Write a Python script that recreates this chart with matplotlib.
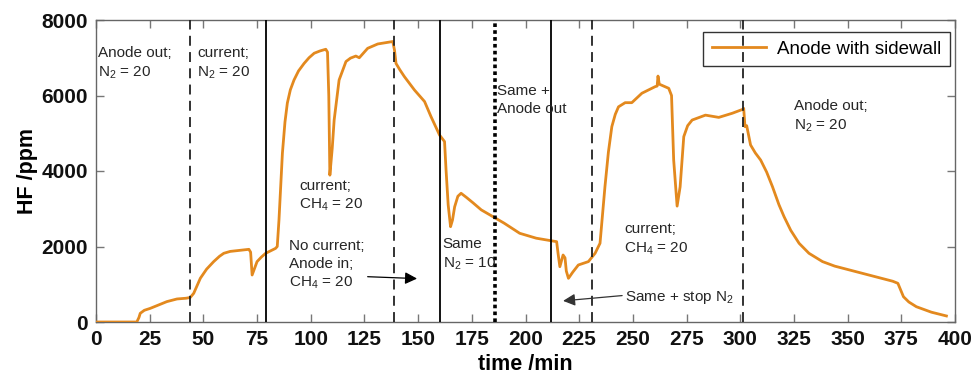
import matplotlib
matplotlib.use("Agg")
import matplotlib.pyplot as plt

plt.rcParams['font.family'] = ['Liberation Sans', 'DejaVu Sans']
plt.rcParams['mathtext.fontset'] = 'custom'
plt.rcParams['mathtext.rm'] = 'Liberation Sans'
plt.rcParams['mathtext.default'] = 'regular'

time_min = [0, 19, 20.0, 20.6, 22.5, 25.2, 30, 33, 37.7, 42, 43.9, 45.5, 48.6, 51.5, 54.8, 57.5,
            59.5, 62.5, 65.7, 71.2, 72.0, 72.7, 75, 77, 79, 83.6, 84.4, 85.2, 86.8, 88.0, 89.1,
            90.5, 92.2, 94.3, 96.9, 99.2, 101.6, 104.3, 107, 107.8, 108.4, 108.9, 110.0, 110.9,
            113.2, 116.4, 118.5, 121, 122.6, 124.5, 126.5, 131.2, 135, 138.2, 139.0, 139.7,
            141.5, 143.6, 148.3, 153, 156, 160, 162.3, 163, 164.0, 165.1, 166.0, 167, 168.5,
            170, 172.5, 175.5, 179.4, 184.9, 190, 197.3, 205, 214.5, 215.2, 216, 217.5, 218.4,
            219, 220, 222.0, 224.6, 229.3, 232.4, 234.7, 237, 238.6, 240.2, 241.8, 243.3,
            246.4, 249.5, 254.2, 260.4, 261.3, 261.7, 262.3, 266.7, 268, 269, 270.6, 272, 273.7,
            275.5, 277.6, 283.8, 290, 296.3, 301, 301.6, 302.2, 303, 304.8, 307, 309.5, 312.3,
            315, 318, 320.4, 323.5, 327.4, 332, 338.3, 344, 350.8, 357, 363.2, 371, 373.4,
            374.3, 376, 378.5, 382, 389, 396]
hf_ppm = [0, 0, 120, 230, 310, 360, 470, 540, 610, 630, 650, 760, 1160, 1400, 1600, 1740,
          1820, 1870, 1890, 1925, 1850, 1245, 1600, 1720, 1820, 1950, 2000, 2700, 4470, 5300,
          5800, 6150, 6410, 6650, 6850, 7000, 7120, 7180, 7225, 7150, 6000, 3890, 4600, 5350,
          6410, 6900, 6990, 7045, 7000, 7120, 7250, 7365, 7400, 7430, 7200, 6850,
          6680, 6500, 6145, 5840, 5440, 4950, 4780, 4030, 3100, 2525, 2700, 3050, 3330,
          3410, 3300, 3160, 2970, 2790, 2620, 2350, 2220, 2128, 1800, 1465, 1775, 1700,
          1350, 1157, 1320, 1510, 1600, 1820, 2085, 3585, 4500, 5175, 5500, 5700,
          5810, 5810, 6060, 6235, 6250, 6515, 6300, 6190, 6000, 4290, 3070, 3580, 4910,
          5200, 5350, 5480, 5420, 5530, 5630, 5660, 5175, 5200, 4690, 4480, 4290, 3970,
          3585, 3110, 2790, 2430, 2085, 1820, 1600, 1480, 1380, 1290, 1200, 1080, 1025,
          900, 670, 530, 405, 260, 160]

dashed_events = [43.9, 138.8, 230.8, 301.4]
solid_events = [79.0, 160.3, 211.7]
dotted_events = [186.0]

x_ticks = list(range(0, 401, 25))
y_ticks = [0, 2000, 4000, 6000, 8000]

labels = [
    (1, 7300, 'Anode out;\nN$_2$ = 20'),
    (47, 7300, 'current;\nN$_2$ = 20'),
    (94.5, 3800, 'current;\nCH$_4$ = 20'),
    (90, 2200, 'No current;\nAnode in;\nCH$_4$ = 20'),
    (161.5, 2250, 'Same\nN$_2$ = 10'),
    (186.5, 6300, 'Same +\nAnode out'),
    (246, 2650, 'current;\nCH$_4$ = 20'),
    (325, 5900, 'Anode out;\nN$_2$ = 20'),
]

fig = plt.figure(figsize=(9.76, 3.88), dpi=100)
ax = fig.add_axes([96 / 976, 1 - 322 / 388, (955 - 96) / 976, (322 - 20) / 388])

line_color = '#E3891E'
ax.plot(time_min, hf_ppm, color=line_color, lw=2.0, label='Anode with sidewall', zorder=4)

for x in dashed_events:
    ax.axvline(x, color='#222222', lw=1.3, ls=(0, (5.5, 3.5)), zorder=5)
for x in solid_events:
    ax.axvline(x, color='black', lw=1.3, zorder=5)
for x in dotted_events:
    ax.axvline(x, color='black', lw=2.6, ls=(0, (1, 0.9)), zorder=5)

for x, y, s in labels:
    ax.text(x, y, s, fontsize=11, color='#262626', va='top', ha='left', linespacing=1.35, zorder=6)

ax.annotate('', xy=(149.5, 1150), xytext=(126.5, 1200),
            arrowprops=dict(arrowstyle='-|>', color='black', lw=0.9, mutation_scale=18,
                            shrinkA=0, shrinkB=0), zorder=6)
ax.text(246.5, 650, 'Same + stop N$_2$', fontsize=11, color='#262626', va='center', ha='left', zorder=6)
ax.annotate('', xy=(217.5, 560), xytext=(245, 700),
            arrowprops=dict(arrowstyle='-|>', color='#333333', lw=0.9, mutation_scale=18,
                            shrinkA=0, shrinkB=0), zorder=6)

ax.set_xlim(0, 400)
ax.set_ylim(0, 8000)
ax.set_xticks(x_ticks)
ax.set_yticks(y_ticks)
ax.tick_params(direction='in', length=6, width=1, color='#777777', top=True, right=True,
               labelsize=15, pad=6)
for lab in ax.get_xticklabels() + ax.get_yticklabels():
    lab.set_fontweight('bold')
    lab.set_color('#111111')
for sp in ax.spines.values():
    sp.set_color('#666666')
    sp.set_linewidth(1.0)

ax.set_xlabel('time /min', fontsize=15.5, fontweight='bold', labelpad=3)
ax.set_ylabel('HF /ppm', fontsize=15.5, fontweight='bold', labelpad=2)

leg = ax.legend(loc='upper right', bbox_to_anchor=(1 - 5 / 859, 1 - 12 / 302),
                fontsize=13.5, frameon=True, fancybox=False, handlelength=2.9,
                borderpad=0.45, borderaxespad=0.0, handletextpad=0.6)
leg.get_frame().set_edgecolor('black')
leg.get_frame().set_linewidth(1.0)
leg.set_zorder(3)

fig.savefig('out.png', dpi=100)
